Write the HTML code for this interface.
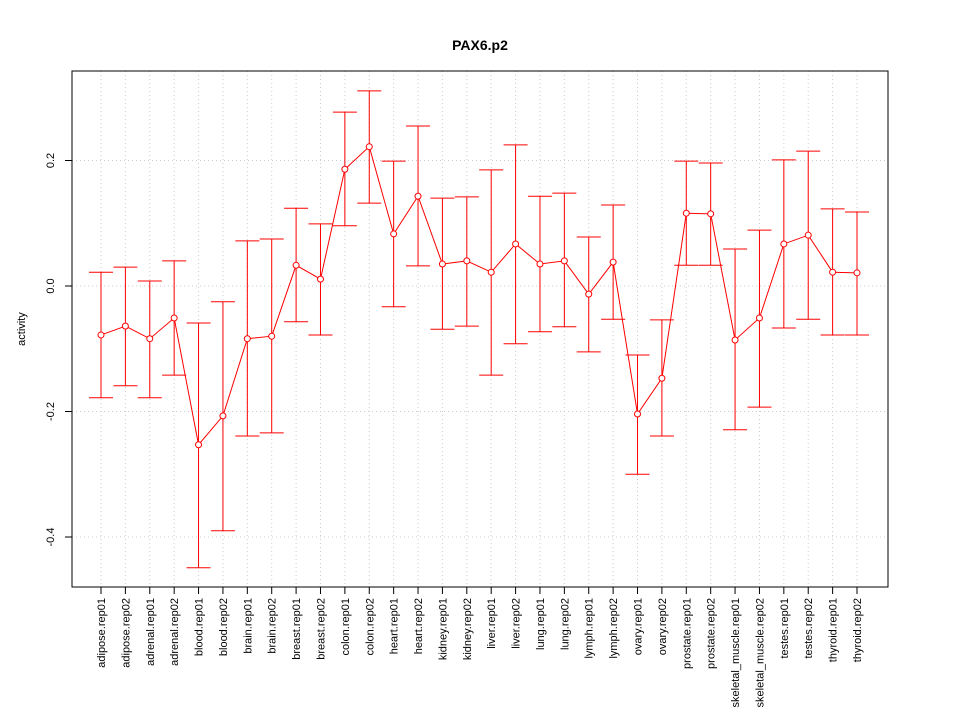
<!DOCTYPE html>
<html><head><meta charset="utf-8"><style>
body{margin:0;background:#fff}
svg text{font-family:"Liberation Sans",sans-serif}
</style></head><body>
<svg id="chart" width="960" height="720" xmlns="http://www.w3.org/2000/svg">
<rect width="960" height="720" fill="#fff"/>
<text x="480" y="50" text-anchor="middle" font-size="14" font-weight="bold">PAX6.p2</text>
<text transform="translate(25,329) rotate(-90)" text-anchor="middle" font-size="11">activity</text>
<g id="grid"></g><g id="axes"></g><g id="marks"></g>
<rect x="72" y="71" width="816" height="516" fill="none" stroke="#000"/>
</svg>
<script>
const categories=["adipose.rep01","adipose.rep02","adrenal.rep01","adrenal.rep02","blood.rep01","blood.rep02","brain.rep01","brain.rep02","breast.rep01","breast.rep02","colon.rep01","colon.rep02","heart.rep01","heart.rep02","kidney.rep01","kidney.rep02","liver.rep01","liver.rep02","lung.rep01","lung.rep02","lymph.rep01","lymph.rep02","ovary.rep01","ovary.rep02","prostate.rep01","prostate.rep02","skeletal_muscle.rep01","skeletal_muscle.rep02","testes.rep01","testes.rep02","thyroid.rep01","thyroid.rep02"];
const values=[-0.078,-0.064,-0.084,-0.051,-0.253,-0.207,-0.084,-0.080,0.033,0.011,0.186,0.222,0.083,0.143,0.035,0.040,0.022,0.067,0.035,0.040,-0.013,0.038,-0.204,-0.147,0.116,0.115,-0.086,-0.051,0.067,0.081,0.022,0.021];
const upper=[0.022,0.030,0.008,0.040,-0.059,-0.025,0.072,0.075,0.124,0.099,0.277,0.311,0.199,0.255,0.140,0.142,0.185,0.225,0.143,0.148,0.078,0.129,-0.110,-0.054,0.199,0.196,0.059,0.089,0.201,0.215,0.123,0.118];
const lower=[-0.178,-0.159,-0.178,-0.142,-0.449,-0.390,-0.239,-0.234,-0.057,-0.078,0.096,0.132,-0.033,0.032,-0.069,-0.064,-0.142,-0.092,-0.073,-0.065,-0.105,-0.053,-0.300,-0.239,0.033,0.033,-0.229,-0.193,-0.067,-0.053,-0.078,-0.078];
const yTicks=[-0.4,-0.2,0.0,0.2];
const yTickLabels=["-0.4","-0.2","0.0","0.2"];
const NS="http://www.w3.org/2000/svg";
const y=v=>286-627.5*v;
const x=i=>101+i*(756/(categories.length-1));
function mk(tag,attrs,parent,text){const e=document.createElementNS(NS,tag);for(const k in attrs)e.setAttribute(k,attrs[k]);if(text!==undefined)e.textContent=text;document.getElementById(parent).appendChild(e);return e;}
yTicks.forEach((t,i)=>{
 const g=mk('line',{x1:72,x2:888,y1:y(t),y2:y(t),stroke:'#ccc','stroke-dasharray':'1,3'},'grid');
 
 
 const tk=mk('line',{x1:65,x2:72,y1:y(t),y2:y(t),stroke:'#000'},'axes');
 
 
 const l=mk('text',{transform:`translate(54,${y(t)}) rotate(-90)`,'text-anchor':'middle','font-size':11},'axes',yTickLabels[i]);
 
 
});
categories.forEach((c,i)=>{
 const g=mk('line',{x1:x(i),x2:x(i),y1:71,y2:587,stroke:'#ccc','stroke-dasharray':'1,3'},'grid');
 
 
 const tk=mk('line',{x1:x(i),x2:x(i),y1:587,y2:594,stroke:'#000'},'axes');
 
 
 const l=mk('text',{transform:`translate(${x(i)+4},598) rotate(-90)`,'text-anchor':'end','font-size':11},'axes',c);
 
 
 const e=mk('path',{d:`M${x(i)},${y(upper[i])}V${y(lower[i])}M${x(i)-12},${y(upper[i])}H${x(i)+12}M${x(i)-12},${y(lower[i])}H${x(i)+12}`,stroke:'#f00',fill:'none'},'marks');
 
 
});
const line=mk('polyline',{points:values.map((v,i)=>x(i)+','+y(v)).join(' '),fill:'none',stroke:'#f00'},'marks');


values.forEach((v,i)=>{
 const p=mk('circle',{cx:x(i),cy:y(v),r:3,fill:'#fff',stroke:'#f00'},'marks');
 
 
});
</script>
</body></html>
